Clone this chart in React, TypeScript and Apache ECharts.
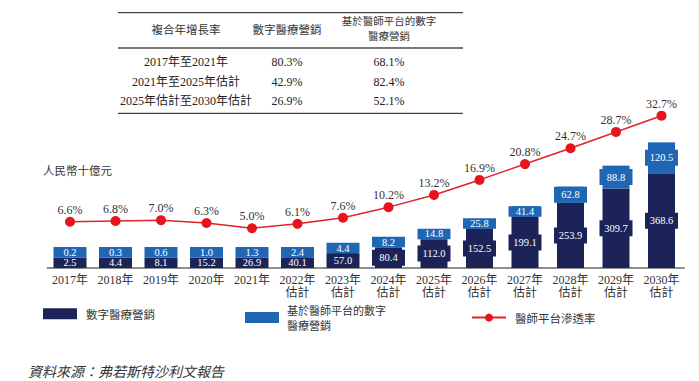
import React, { useEffect, useRef } from "react";
import * as echarts from "echarts";

const categories = [
  "2017年", "2018年", "2019年", "2020年", "2021年",
  "2022年\n估計", "2023年\n估計", "2024年\n估計", "2025年\n估計", "2026年\n估計",
  "2027年\n估計", "2028年\n估計", "2029年\n估計", "2030年\n估計",
];
const digitalMarketing = [2.5, 4.4, 8.1, 15.2, 26.9, 40.1, 57.0, 80.4, 112.0, 152.5, 199.1, 253.9, 309.7, 368.6];
const physicianPlatform = [0.2, 0.3, 0.6, 1.0, 1.3, 2.4, 4.4, 8.2, 14.8, 25.8, 41.4, 62.8, 88.8, 120.5];
const penetrationRate = [6.6, 6.8, 7.0, 6.3, 5.0, 6.1, 7.6, 10.2, 13.2, 16.9, 20.8, 24.7, 28.7, 32.7];

const seriesNames = ["數字醫療營銷", "基於醫師平台的數字醫療營銷", "醫師平台滲透率"];
const cagrHeaders = ["複合年增長率", "數字醫療營銷"];
const cagrHeader3 = ["基於醫師平台的數字", "醫療營銷"];
const cagrPeriods = ["2017年至2021年", "2021年至2025年估計", "2025年估計至2030年估計"];
const cagrDigital = ["80.3%", "42.9%", "26.9%"];
const cagrPlatform = ["68.1%", "82.4%", "52.1%"];
const unitLabel = "人民幣十億元";
const sourceNote = "資料來源：弗若斯特沙利文報告";

const DARK = "#1c2358";
const LIGHT = "#1f67b5";
const RED = "#e0232b";
const SERIF = "'Liberation Serif', 'Noto Sans CJK TC', serif";
const CJK = "'Noto Sans CJK TC', 'Liberation Serif', sans-serif";

const GRID_TOP = 100;
const GRID_H = 168;
const BAR_MAX = 654;
const MIN_H = 10.5;
const BOX_W = 33;
const BOX_MAX_H = 16;
const PX = GRID_H / BAR_MAX;

// Label boxes: small bars get a minimum visible box, stacked one above the other.
function darkData() {
  return digitalMarketing.map((v) => {
    const px = v * PX;
    const vis = Math.max(px, MIN_H);
    const h = Math.min(vis, BOX_MAX_H);
    return { value: v, label: { height: h, lineHeight: h, offset: [0, -(vis / 2 - px / 2)] } };
  });
}
function lightData() {
  return physicianPlatform.map((v, i) => {
    const dPx = digitalMarketing[i] * PX;
    const dVis = Math.max(dPx, MIN_H);
    const px = v * PX;
    const vis = Math.max(px, MIN_H);
    const h = Math.min(vis, BOX_MAX_H);
    const dy = dVis + vis / 2 - (dPx + px / 2);
    return { value: v, label: { height: h, lineHeight: h, offset: [0, -dy] } };
  });
}

function barLabel(color: string) {
  return {
    show: true,
    position: "inside",
    color: "#fff",
    fontSize: 10.5,
    fontFamily: SERIF,
    backgroundColor: color,
    width: BOX_W,
    align: "center",
    verticalAlign: "middle",
    formatter: (p: any) => Number(p.value).toFixed(1),
  };
}

export default function App() {
  const ref = useRef<HTMLDivElement>(null);

  useEffect(() => {
    document.body.style.margin = "0";
    if (!ref.current) return;
    const chart = echarts.init(ref.current, undefined, { renderer: "svg" });

    const colX = [186, 287, 389];
    const rowY = [61.7, 81.7, 100.5];
    const tableTexts: any[] = [];
    cagrHeaders.forEach((t, i) => {
      tableTexts.push({
        type: "text",
        style: {
          text: t, x: colX[i], y: 29, textAlign: "center", textVerticalAlign: "middle",
          fontSize: 11.5, fontFamily: CJK, fill: "#333",
        },
      });
    });
    cagrHeader3.forEach((t, i) => {
      tableTexts.push({
        type: "text",
        style: {
          text: t, x: colX[2], y: 20 + i * 15.3, textAlign: "center", textVerticalAlign: "middle",
          fontSize: 10.5, fontFamily: CJK, fill: "#333",
        },
      });
    });
    [cagrPeriods, cagrDigital, cagrPlatform].forEach((col, ci) => {
      col.forEach((t, ri) => {
        tableTexts.push({
          type: "text",
          style: {
            text: t, x: colX[ci], y: rowY[ri], textAlign: "center", textVerticalAlign: "middle",
            fontSize: 12, fontFamily: SERIF, fill: "#222",
          },
        });
      });
    });

    chart.setOption({
      animation: false,
      grid: { left: 47.25, right: 14.75, top: GRID_TOP, height: GRID_H },
      xAxis: {
        type: "category",
        data: categories,
        axisLine: { lineStyle: { color: "#6b6b6b", width: 1.5 } },
        axisTick: { show: false },
        axisLabel: {
          interval: 0, margin: 5, fontSize: 12, lineHeight: 13, color: "#333", fontFamily: SERIF,
        },
      },
      yAxis: [
        { type: "value", min: 0, max: BAR_MAX, show: false, splitLine: { show: false } },
        { type: "value", min: -4.77, max: 36.56, show: false, splitLine: { show: false } },
      ],
      legend: [
        {
          data: [seriesNames[0]], left: 43, top: 306.8, padding: 0, icon: "rect",
          itemWidth: 34, itemHeight: 11,
          textStyle: { fontSize: 11.5, fontFamily: CJK, color: "#333", lineHeight: 14, padding: [0, 0, 0, 4] },
        },
        {
          data: [seriesNames[1]], left: 245, top: 302.5, padding: 0, icon: "rect",
          itemWidth: 34, itemHeight: 11,
          formatter: () => "基於醫師平台的數字\n醫療營銷",
          textStyle: { fontSize: 11, fontFamily: CJK, color: "#333", lineHeight: 15, padding: [0, 0, 0, 3] },
        },
        {
          data: [seriesNames[2]], left: 471, top: 310.6, padding: 0,
          itemWidth: 34, itemHeight: 10,
          textStyle: { fontSize: 11.5, fontFamily: CJK, color: "#333", lineHeight: 14, padding: [0, 0, 0, 4] },
        },
      ],
      graphic: [
        { type: "line", shape: { x1: 118, y1: 12.7, x2: 463, y2: 12.7 }, style: { stroke: "#444", lineWidth: 1.3 } },
        { type: "line", shape: { x1: 118, y1: 48, x2: 463, y2: 48 }, style: { stroke: "#777", lineWidth: 2 } },
        { type: "line", shape: { x1: 118, y1: 113.3, x2: 463, y2: 113.3 }, style: { stroke: "#444", lineWidth: 1.3 } },
        ...tableTexts,
        {
          type: "text",
          style: {
            text: unitLabel, x: 43, y: 169.5, textVerticalAlign: "middle",
            fontSize: 11.5, fontFamily: CJK, fill: "#333",
          },
        },
        {
          type: "text",
          style: {
            text: sourceNote, x: 28, y: 371, textVerticalAlign: "middle",
            fontSize: 14, fontStyle: "italic", fontFamily: CJK, fill: "#333",
          },
        },
      ],
      series: [
        {
          name: seriesNames[0], type: "bar", stack: "rev", barWidth: 27,
          itemStyle: { color: DARK }, label: barLabel(DARK), data: darkData(),
        },
        {
          name: seriesNames[1], type: "bar", stack: "rev", barWidth: 27,
          itemStyle: { color: LIGHT }, label: barLabel(LIGHT), data: lightData(),
        },
        {
          name: seriesNames[2], type: "line", yAxisIndex: 1, data: penetrationRate,
          symbol: "circle", symbolSize: 10, z: 5,
          lineStyle: { color: RED, width: 1.5 },
          itemStyle: { color: "#e8141c" },
          label: {
            show: true, position: "top", distance: 1, fontSize: 12, fontFamily: SERIF, color: "#333",
            formatter: (p: any) => Number(p.value).toFixed(1) + "%",
          },
        },
      ],
    });

    return () => chart.dispose();
  }, []);

  return <div ref={ref} style={{ width: 699, height: 381 }} />;
}
